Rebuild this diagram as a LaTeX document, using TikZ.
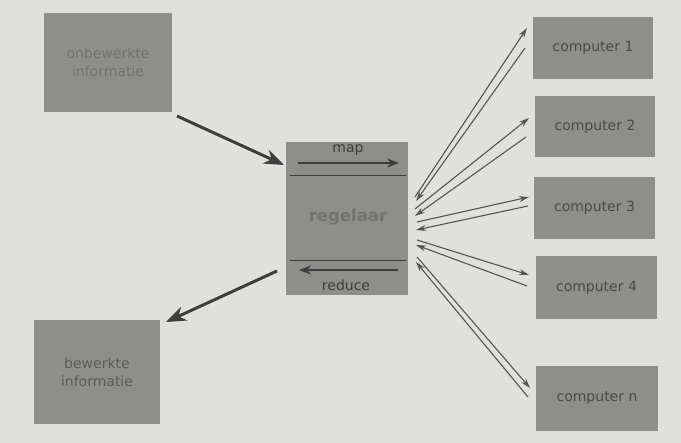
\documentclass[tikz,border=0pt]{standalone}
\usepackage{fontspec}
\setmainfont{DejaVu Sans}
\usetikzlibrary{arrows.meta}
\definecolor{bg}{HTML}{E0E0DD}
\definecolor{boxc}{HTML}{8E8E8C}
\definecolor{dtext}{HTML}{4A4A4A}
\definecolor{mtext}{HTML}{5C5C5C}
\definecolor{ltext}{HTML}{727272}
\definecolor{arr}{HTML}{3E3E3E}
\definecolor{thin}{HTML}{555555}
\tikzset{
  box/.style={fill=boxc, draw=none, inner sep=0pt, font=\fontsize{14}{18}\selectfont, align=center},
  bigarrow/.style={draw=arr, line width=3pt, -{Stealth[length=20pt,width=15pt]}},
  midarrow/.style={draw=arr, line width=2.5pt, -{Stealth[length=12pt,width=9pt]}},
  thinarrow/.style={draw=thin, line width=1.1pt, -{Stealth[length=10pt,width=6pt]}},
  sep/.style={draw=arr, line width=0.9pt}
}
\begin{document}
\begin{tikzpicture}[x=1pt,y=-1pt]
\fill[bg] (0,0) rectangle (681,443);
\useasboundingbox (0,0) rectangle (681,443);

\node[box, minimum width=128pt, minimum height=99pt, text=ltext] (raw) at (108,62.5) {onbewerkte\\informatie};
\node[box, minimum width=126pt, minimum height=104pt, text=mtext] (done) at (97,372) {bewerkte\\informatie};
\node[box, minimum width=122pt, minimum height=153pt] (reg) at (347,218.5) {};
\node[text=ltext, font=\fontsize{16.5}{18}\selectfont\bfseries] (regt) at (348,217) {regelaar};
\node[text=arr, font=\fontsize{14}{16}\selectfont, inner sep=0pt] (mapt) at (348,150) {map};
\node[text=arr, font=\fontsize{14}{16}\selectfont, inner sep=0pt] (redt) at (346,285) {reduce};

\node[box, minimum width=120pt, minimum height=62pt, text=dtext] (c1) at (593,48) {computer 1};
\node[box, minimum width=120pt, minimum height=61pt, text=dtext] (c2) at (595,126.5) {computer 2};
\node[box, minimum width=121pt, minimum height=62pt, text=dtext] (c3) at (594.5,208) {computer 3};
\node[box, minimum width=121pt, minimum height=63pt, text=dtext] (c4) at (596.5,287.5) {computer 4};
\node[box, minimum width=122pt, minimum height=65pt, text=dtext] (cn) at (597,398.5) {computer n};

% separators
\coordinate (s1a) at (290,175); \coordinate (s1b) at (406,175);
\coordinate (s2a) at (290,260); \coordinate (s2b) at (406,260);
\draw[sep] (s1a) -- (s1b);
\draw[sep] (s2a) -- (s2b);

% map / reduce arrows
\coordinate (ma) at (298,163); \coordinate (mb) at (399,163);
\coordinate (ra) at (398,270); \coordinate (rb) at (299,270);
\draw[midarrow] (ma) -- (mb);
\draw[midarrow] (ra) -- (rb);

% big arrows
\coordinate (in1) at (177,116); \coordinate (in2) at (284,165);
\coordinate (out1) at (277,271); \coordinate (out2) at (166,322);
\draw[bigarrow] (in1) -- (in2);
\draw[bigarrow] (out1) -- (out2);

% computer arrows
\coordinate (a1s) at (415,197); \coordinate (a1e) at (527,28);
\coordinate (b1s) at (525,48);  \coordinate (b1e) at (416,201);
\coordinate (a2s) at (415,209); \coordinate (a2e) at (529,118);
\coordinate (b2s) at (526,137); \coordinate (b2e) at (415,216);
\coordinate (a3s) at (417,222); \coordinate (a3e) at (529,197);
\coordinate (b3s) at (528,206); \coordinate (b3e) at (416,230);
\coordinate (a4s) at (417,240); \coordinate (a4e) at (529,275);
\coordinate (b4s) at (527,286); \coordinate (b4e) at (416,245);
\coordinate (a5s) at (417,257); \coordinate (a5e) at (530,388);
\coordinate (b5s) at (528,397); \coordinate (b5e) at (416,262);
\foreach \p in {1,...,5}{
  \draw[thinarrow] (a\p s) -- (a\p e);
  \draw[thinarrow] (b\p s) -- (b\p e);
}
\end{tikzpicture}
\end{document}
